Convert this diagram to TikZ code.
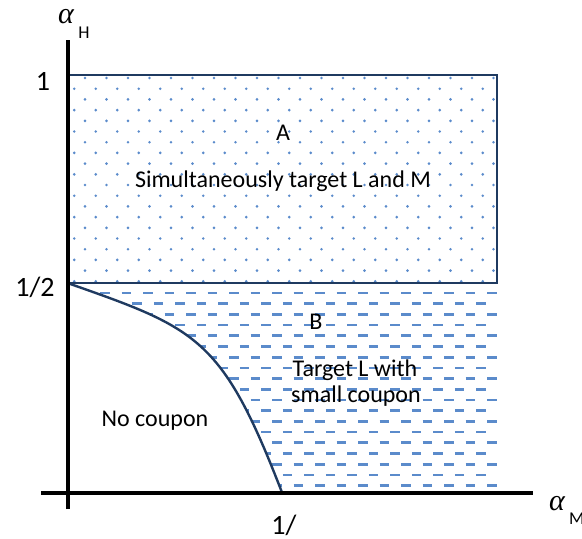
\documentclass[tikz,border=0pt]{standalone}
\usepackage{fontspec}
\setmainfont{Carlito}
\newfontfamily\greekfont{Liberation Serif}
\definecolor{framec}{HTML}{1F3A60}
\definecolor{patc}{HTML}{5B8BCB}
\tikzset{
  axis/.style={line width=4pt, black},
  frameline/.style={line width=2pt, framec},
  curveline/.style={line width=2.4pt, framec},
  lbl/.style={inner sep=0pt, font=\fontsize{24}{26}\selectfont},
  ticklbl/.style={inner sep=0pt, font=\fontsize{28}{30}\selectfont},
  alphalbl/.style={inner sep=0pt, font=\fontsize{30}{30}\selectfont\greekfont\itshape},
  sublbl/.style={inner sep=0pt, font=\fontsize{18}{18}\selectfont},
  dotmark/.style={fill=patc},
  dashmark/.style={patc, line width=2.7pt},
}
\begin{document}
\begin{tikzpicture}[x=1pt,y=-1pt]
\useasboundingbox (0,0) rectangle (582,539);
% coordinates
\coordinate (O) at (67.5,492.5);
\coordinate (Ytop) at (67.5,40);
\coordinate (Ybot) at (67.5,509);
\coordinate (Xleft) at (41,492.5);
\coordinate (Xright) at (533,492.5);
\coordinate (RA1) at (67.5,75);
\coordinate (RA2) at (497,283);
\coordinate (Half) at (67.5,283);
\coordinate (HalfR) at (497,283);
\coordinate (Cend) at (282,492.5);
\coordinate (BR) at (497,492.5);
% region A dots
\begin{scope}
  \clip (RA1) rectangle (RA2);
  \foreach \r in {0,...,20}{
    \pgfmathsetmacro{\yy}{78+10.7*\r}
    \pgfmathsetmacro{\off}{mod(\r,2)==0 ? 85 : 74.25}
    \foreach \c in {0,...,20}{
      \fill[dotmark] ({\off+21.5*\c},\yy) circle (1.45);
    }
  }
\end{scope}
% region B dashes
\begin{scope}
  \clip (Half) .. controls (197,328.5) and (222,337) .. (Cend) -- (BR) -- (HalfR) -- cycle;
  \foreach \r in {0,...,20}{
    \pgfmathsetmacro{\yy}{293+10.7*\r}
    \pgfmathsetmacro{\off}{mod(\r,2)==0 ? 57 : 46.25}
    \foreach \c in {0,...,22}{
      \draw[dashmark] ({\off+21.5*\c},\yy) -- ({\off+21.5*\c+9.5},\yy);
    }
  }
\end{scope}
% frame of A
\draw[frameline] (RA1) rectangle (RA2);
% boundary curve
\draw[curveline] (Half) .. controls (197,328.5) and (222,337) .. (Cend);
% axes
\draw[axis] (Ybot) -- (Ytop);
\draw[axis] (Xleft) -- (Xright);
% axis labels
\node[alphalbl] (aH) at (66,17) {α};
\node[sublbl] (aHs) at (84,33) {H};
\node[alphalbl] (aM) at (557,504) {α};
\node[sublbl, anchor=west] (aMs) at (569,518.5) {M};
% ticks
\node[ticklbl] (t1) at (43,81) {1};
\node[ticklbl] (th) at (35,287) {1/2};
\node[ticklbl] (tx) at (284,525) {1/};
% region labels
\node[lbl] (A) at (283,133) {A};
\node[lbl] (Atext) at (283,181) {Simultaneously target L and M};
\node[lbl] (B) at (316,322) {B};
\node[lbl] (Bt1) at (355,370) {Target L with};
\node[lbl] (Bt2) at (356,396) {small coupon};
\node[lbl] (NC) at (155,421) {No coupon};
\end{tikzpicture}
\end{document}
